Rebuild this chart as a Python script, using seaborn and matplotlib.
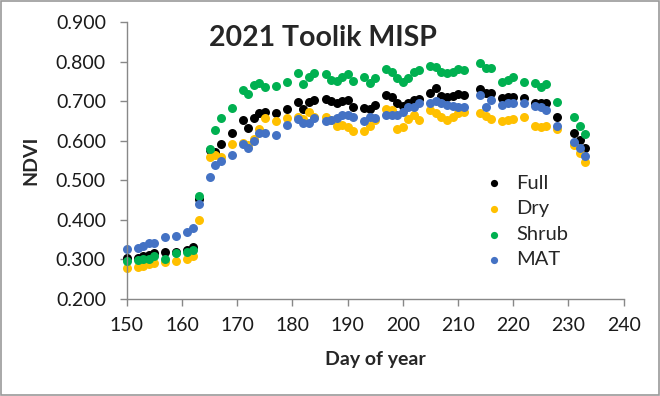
import matplotlib
matplotlib.use('Agg')
import matplotlib.pyplot as plt
from matplotlib.patches import Rectangle
import seaborn as sns
import pandas as pd

days = [150, 152, 153, 154, 155, 157, 159, 161, 162, 163,
        165, 166, 167, 169, 171, 172, 173, 174, 175, 177, 179,
        181, 182, 183, 184, 186, 187, 188, 189, 190, 191, 193, 194, 195,
        197, 198, 199, 200, 201, 202, 203, 205, 206, 207, 208, 209, 210, 211,
        214, 215, 216, 218, 219, 220, 222, 224, 225, 226, 228, 231, 232, 233]

full = [0.304, 0.304, 0.308, 0.312, 0.316, 0.319, 0.319, 0.324, 0.332, 0.453,
        0.578, 0.572, 0.592, 0.620, 0.653, 0.633, 0.658, 0.671, 0.673, 0.671, 0.680,
        0.697, 0.680, 0.697, 0.702, 0.706, 0.700, 0.695, 0.700, 0.704, 0.685, 0.683, 0.680, 0.690,
        0.716, 0.712, 0.695, 0.689, 0.695, 0.704, 0.706, 0.721, 0.733, 0.714, 0.711, 0.714, 0.719, 0.716,
        0.732, 0.722, 0.722, 0.709, 0.711, 0.711, 0.709, 0.696, 0.696, 0.696, 0.661, 0.620, 0.603, 0.582]

dry = [0.278, 0.282, 0.283, 0.288, 0.291, 0.294, 0.297, 0.302, 0.308, 0.400,
       0.560, 0.565, 0.560, 0.592, 0.595, 0.590, 0.605, 0.630, 0.657, 0.651, 0.657,
       0.661, 0.655, 0.672, 0.660, 0.661, 0.653, 0.638, 0.640, 0.635, 0.624, 0.624, 0.638, 0.653,
       0.680, 0.677, 0.630, 0.635, 0.655, 0.666, 0.653, 0.678, 0.670, 0.661, 0.653, 0.660, 0.670, 0.674,
       0.671, 0.663, 0.656, 0.651, 0.653, 0.656, 0.661, 0.638, 0.635, 0.638, 0.630, 0.590, 0.570, 0.547]

shrub = [0.297, 0.299, 0.302, 0.302, 0.308, 0.302, 0.316, 0.319, 0.325, 0.461,
         0.580, 0.628, 0.658, 0.684, 0.729, 0.719, 0.742, 0.747, 0.737, 0.739, 0.749,
         0.772, 0.744, 0.762, 0.772, 0.770, 0.755, 0.752, 0.762, 0.768, 0.750, 0.762, 0.747, 0.759,
         0.782, 0.775, 0.759, 0.749, 0.759, 0.775, 0.780, 0.790, 0.787, 0.775, 0.772, 0.775, 0.782, 0.780,
         0.797, 0.785, 0.785, 0.749, 0.754, 0.762, 0.749, 0.747, 0.737, 0.744, 0.699, 0.661, 0.638, 0.618]

mat = [0.327, 0.329, 0.334, 0.342, 0.342, 0.357, 0.359, 0.370, 0.380, 0.441,
       0.509, 0.540, 0.550, 0.565, 0.592, 0.582, 0.600, 0.620, 0.620, 0.615, 0.640,
       0.654, 0.646, 0.645, 0.658, 0.649, 0.653, 0.657, 0.666, 0.664, 0.661, 0.649, 0.661, 0.657,
       0.666, 0.666, 0.666, 0.674, 0.685, 0.685, 0.695, 0.695, 0.700, 0.695, 0.691, 0.689, 0.685, 0.685,
       0.716, 0.686, 0.704, 0.691, 0.696, 0.696, 0.696, 0.689, 0.686, 0.678, 0.638, 0.597, 0.582, 0.562]

series = {'Full': full, 'Dry': dry, 'Shrub': shrub, 'MAT': mat}
colors = {'Full': '#000000', 'Dry': '#FFC000', 'Shrub': '#00B050', 'MAT': '#4472C4'}

sns.set_style('white')
plt.rcParams['font.family'] = ['Lato', 'DejaVu Sans']

fig = plt.figure(figsize=(6.6, 3.96), dpi=100)
ax = fig.add_axes([0.192, 0.245, 0.753, 0.699])

for name, vals in series.items():
    df = pd.DataFrame({'day': days, 'ndvi': vals})
    sns.scatterplot(data=df, x='day', y='ndvi', color=colors[name], s=42,
                    linewidth=0, label=name, ax=ax, clip_on=False)

ax.set_xlim(150, 240)
ax.set_ylim(0.2, 0.9)
ax.set_xticks(range(150, 241, 10))
ax.set_yticks([0.2, 0.3, 0.4, 0.5, 0.6, 0.7, 0.8, 0.9])
ax.set_yticklabels(['%.3f' % v for v in ax.get_yticks()])
ax.tick_params(axis='both', labelsize=14, labelcolor='#1a1a1a', length=5,
               width=1, direction='out', left=True, bottom=True, color='#888888')
ax.tick_params(axis='x', pad=8)
ax.tick_params(axis='y', pad=10)
for s in ['top', 'right']:
    ax.spines[s].set_visible(False)
for s in ['left', 'bottom']:
    ax.spines[s].set_color('#888888')
    ax.spines[s].set_linewidth(1)

ax.set_xlabel('Day of year', fontsize=14, fontweight='bold', labelpad=12)
ax.set_ylabel('NDVI', fontsize=14, fontweight='bold', labelpad=12)

fig.text(0.49, 0.905, '2021 Toolik MISP', fontsize=20.5, fontweight='bold',
         ha='center', va='center')

leg = ax.legend(loc='lower right', bbox_to_anchor=(0.925, 0.045), frameon=False,
                fontsize=14.5, handletextpad=0.1, labelspacing=0.42, markerscale=0.8)

fig.add_artist(Rectangle((0.001, 0.002), 0.997, 0.995, transform=fig.transFigure,
                         fill=False, edgecolor='#999999', linewidth=1.2))

fig.savefig('out.png', dpi=100)
